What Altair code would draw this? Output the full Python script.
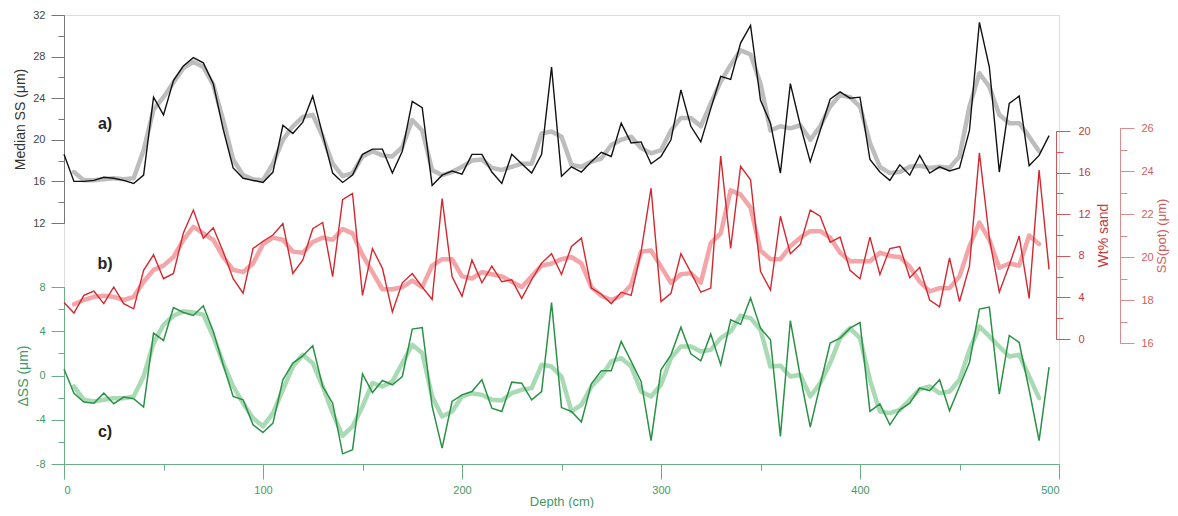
import altair as alt
import pandas as pd

# ---------------- data ----------------
depth = [0, 5, 10, 15, 20, 25, 30, 35, 40, 45, 50, 55, 60, 65, 70, 75, 80, 85, 90, 95,
         100, 105, 110, 115, 120, 125, 130, 135, 140, 145, 150, 155, 160, 165, 170, 175, 180, 185, 190, 195,
         200, 205, 210, 215, 220, 225, 230, 235, 240, 245, 250, 255, 260, 265, 270, 275, 280, 285, 290, 295,
         300, 305, 310, 315, 320, 325, 330, 335, 340, 345, 350, 355, 360, 365, 370, 375, 380, 385, 390, 395,
         400, 405, 410, 415, 420, 425, 430, 435, 440, 445, 450, 455, 460, 465, 470, 475, 480, 485, 490, 495]
depth_smooth = depth[1:-1]

median_ss = [18.6, 16.0, 16.0, 16.1, 16.4, 16.3, 16.1, 15.8, 16.6, 24.1,
             22.4, 25.7, 27.1, 27.9, 27.4, 25.4, 21.0, 17.3, 16.3, 16.1,
             15.9, 16.9, 21.4, 20.6, 21.7, 24.2, 20.5, 16.8, 15.9, 16.6,
             18.6, 19.1, 19.1, 16.8, 18.9, 23.7, 23.1, 15.6, 16.6, 17.0,
             16.7, 18.6, 18.6, 16.9, 15.8, 18.6, 17.7, 16.8, 18.6, 27.0,
             16.5, 17.4, 16.9, 17.9, 18.8, 18.4, 21.6, 19.7, 19.8, 17.7,
             18.4, 20.0, 24.8, 21.3, 19.8, 23.0, 26.1, 25.8, 29.3, 31.0,
             23.8, 21.6, 16.8, 25.4, 21.4, 17.9, 20.9, 23.9, 24.6, 24.0,
             24.1, 18.1, 16.9, 16.1, 17.6, 16.6, 18.5, 16.8, 17.4, 17.0,
             17.3, 20.9, 31.3, 27.0, 16.9, 23.5, 24.2, 17.5, 18.5, 20.4]

median_ss_smooth = [16.9, 16.1, 16.1, 16.2, 16.3, 16.2, 16.3, 19.0, 22.9, 24.1,
                    25.5, 26.9, 27.5, 27.0, 25.3, 21.9, 18.1, 16.6, 16.2, 16.1,
                    17.7, 20.0, 21.3, 22.2, 22.4, 20.3, 17.7, 16.5, 16.8, 18.4,
                    18.9, 18.5, 18.4, 19.3, 21.9, 20.9, 17.1, 16.6, 16.9, 17.4,
                    18.0, 18.1, 17.3, 17.1, 17.4, 17.7, 17.7, 20.6, 20.8, 20.3,
                    17.6, 17.4, 17.9, 18.2, 19.5, 20.0, 20.3, 19.2, 18.7, 19.0,
                    20.9, 22.1, 22.1, 21.3, 23.5, 25.6, 27.2, 28.6, 28.2, 25.4,
                    20.9, 21.3, 21.1, 21.4, 20.0, 21.3, 23.2, 24.3, 24.1, 23.2,
                    19.7, 17.4, 16.8, 16.9, 17.4, 17.5, 17.3, 17.4, 17.3, 18.4,
                    23.2, 26.4, 25.1, 22.4, 21.6, 21.6, 20.3, 18.9]

wt_sand = [3.5, 2.5, 4.2, 4.6, 3.4, 5.0, 3.4, 2.9, 6.6, 8.1,
           5.8, 6.3, 10.2, 12.4, 9.7, 10.7, 8.4, 5.8, 4.4, 8.7,
           9.4, 10.0, 11.1, 6.3, 7.6, 10.6, 11.2, 6.0, 13.4, 14.0,
           4.2, 8.7, 6.8, 2.6, 5.4, 6.3, 5.0, 3.8, 13.5, 6.0,
           4.1, 7.6, 5.4, 7.0, 5.5, 5.7, 3.9, 5.7, 7.3, 8.2,
           6.2, 8.9, 9.7, 4.9, 4.3, 3.4, 4.5, 4.2, 8.4, 14.5,
           3.6, 4.4, 8.2, 6.4, 4.5, 4.9, 17.6, 8.7, 16.6, 15.3,
           6.5, 4.7, 11.8, 8.2, 9.1, 12.4, 11.8, 9.3, 9.8, 6.6,
           5.8, 9.8, 6.2, 8.7, 8.9, 5.9, 6.9, 3.75, 3.1, 7.8,
           3.6, 7.0, 17.9, 9.7, 4.5, 7.1, 9.9, 3.9, 16.25, 6.7]

ss_pot = [17.8, 18.0, 18.15, 18.2, 18.15, 18.0, 18.15, 18.85, 19.4, 19.6,
          20.0, 20.8, 21.4, 21.1, 20.8, 20.0, 19.4, 19.3, 19.7, 20.6,
          20.9, 20.8, 20.25, 20.2, 20.7, 20.9, 20.8, 21.3, 21.1, 20.1,
          19.3, 18.5, 18.5, 18.6, 18.9, 18.6, 19.6, 19.9, 19.9, 19.1,
          19.0, 19.3, 19.2, 19.1, 18.85, 18.6, 19.1, 19.6, 19.7, 19.9,
          20.0, 19.7, 18.6, 18.2, 18.0, 18.2, 18.7, 20.25, 20.3, 19.55,
          18.8, 19.2, 19.25, 18.8, 20.65, 21.1, 23.1, 22.9, 22.3, 20.3,
          19.9, 19.9, 20.5, 20.9, 21.2, 21.2, 20.9, 20.2, 19.8, 19.8,
          19.8, 20.2, 20.05, 20.0, 19.55, 18.85, 18.4, 18.55, 18.55, 19.1,
          20.5, 21.6, 20.8, 19.5, 19.7, 19.6, 21.0, 20.6]

delta_ss = [0.58, -1.6, -2.4, -2.5, -1.6, -2.55, -1.95, -2.1, -2.86, 3.83,
            3.17, 6.15, 5.7, 5.43, 6.3, 4.0, 0.97, -1.9, -2.2, -4.46,
            -5.15, -4.3, -0.39, 1.12, 1.78, 2.69, -0.99, -2.5, -7.08, -6.7,
            0.15, -1.54, -0.45, -0.84, -0.09, 4.2, 4.34, -2.8, -6.57, -2.35,
            -1.75, -1.45, -0.39, -2.95, -3.25, -0.6, -0.69, -2.2, -1.45, 6.6,
            -2.9, -3.25, -4.2, -0.75, 0.42, 0.42, 3.07, 1.27, -0.54, -5.88,
            0.51, 1.87, 4.37, 1.96, 1.33, 3.74, 0.97, 5.04, 4.64, 7.0,
            4.28, 3.23, -5.5, 4.97, -0.09, -4.67, -0.84, 2.93, 3.38, 4.28,
            4.79, -3.25, -2.56, -4.46, -3.1, -2.5, -1.14, -1.36, -0.39, -3.19,
            -0.99, 1.18, 6.0, 6.18, -1.68, 3.62, 2.98, -1.29, -5.88, 0.76]

delta_ss_smooth = [-0.99, -2.2, -2.35, -2.2, -2.05, -2.05, -1.9, -0.09, 2.93, 4.58,
                   5.4, 5.8, 5.7, 5.5, 3.53, 1.12, -0.99, -2.5, -3.85, -4.6,
                   -3.4, -1.29, 0.81, 1.87, 1.12, -0.99, -3.4, -5.45, -4.6, -2.8,
                   -0.69, -0.99, -0.54, 1.12, 2.78, 2.03, -1.9, -3.7, -3.25, -1.9,
                   -1.6, -1.75, -2.2, -2.25, -1.6, -1.29, -1.14, 0.97, 0.81, -0.09,
                   -3.25, -2.65, -0.99, -0.09, 1.27, 1.57, 0.81, -1.45, -1.9, -0.84,
                   1.57, 2.62, 2.62, 2.17, 2.32, 3.38, 3.98, 5.4, 5.19, 4.13,
                   0.81, 0.88, -0.09, 0.06, -1.9, -0.69, 1.12, 3.38, 4.28, 3.38,
                   -0.39, -3.25, -3.4, -3.1, -2.2, -1.23, -0.99, -1.6, -1.45, -0.39,
                   2.32, 4.43, 3.53, 2.62, 1.72, 1.87, -0.09, -2.05]

# tick values
x_major = [0, 100, 200, 300, 400, 500]
x_minor = [0, 50, 100, 150, 200, 250, 300, 350, 400, 450, 500]
ss_major = [12, 16, 20, 24, 28, 32]
ss_minor = [12, 14, 16, 18, 20, 22, 24, 26, 28, 30, 32]
sand_major = [0, 4, 8, 12, 16, 20]
sand_minor = [0, 2, 4, 6, 8, 10, 12, 14, 16, 18, 20]
pot_major = [16, 18, 20, 22, 24, 26]
pot_minor = [16, 17, 18, 19, 20, 21, 22, 23, 24, 25, 26]
dss_major = [-8, -4, 0, 4, 8]
dss_minor = [-8, -6, -4, -2, 0, 2, 4, 6, 8]

# panel labels (depth, value in that panel's units)
lab_a = {"d": [20.6], "v": [21.5], "t": ["a)"]}
lab_b = {"d": [20.6], "v": [7.2], "t": ["b)"]}
lab_c = {"d": [20.6], "v": [-5.1], "t": ["c)"]}

raw = pd.DataFrame({"d": depth, "ss": median_ss, "sand": wt_sand, "dss": delta_ss})
smooth = pd.DataFrame({"d": depth_smooth, "ss": median_ss_smooth, "pot": ss_pot,
                       "dss": delta_ss_smooth})

FONT = "Liberation Sans"
GREEN_AX = "#6aae86"
GREEN_TXT = "#3f9a66"
GREY_AX = "#777777"
RED_AX = "#cf5a5e"
RED_TXT = "#c23b3f"
PINK_AX = "#dc8b8e"
PINK_TXT = "#cf5f63"

xscale = alt.Scale(domain=[0, 500], nice=False, zero=False)
sA = alt.Scale(domain=[12, 32], range=[208, 0], nice=False, zero=False)
sB = alt.Scale(domain=[0, 20], range=[324, 116], nice=False, zero=False)
sC = alt.Scale(domain=[16, 26], range=[328, 113], nice=False, zero=False)
sD = alt.Scale(domain=[-8, 8], range=[449, 272], nice=False, zero=False)

LBL = "'' + datum.value"


def major_axis(orient, values, title, ax_col, txt_col, title_col, tick=13, pad=6,
               offset=0, title_pad=5, angle=None, title_size=14):
    kw = dict(orient=orient, values=values, tickSize=tick, labelPadding=pad,
              labelFontSize=11, labelColor=txt_col, labelExpr=LBL, domainColor=ax_col,
              tickColor=ax_col, domainWidth=1, tickWidth=1, grid=False, title=title,
              titleFontSize=title_size, titleFontWeight="normal", titleColor=title_col,
              titlePadding=title_pad, offset=offset, labelFont=FONT, titleFont=FONT)
    if angle is not None:
        kw["titleAngle"] = angle
        kw["titleBaseline"] = "top"
    return alt.Axis(**kw)


def minor_axis(orient, values, ax_col, tick=6, offset=0):
    return alt.Axis(orient=orient, values=values, tickSize=tick, labels=False,
                    domain=False, tickColor=ax_col, tickWidth=1, grid=False,
                    title=None, offset=offset)


x_major_axis = alt.Axis(orient="bottom", values=x_major, tickSize=15, labelPadding=5,
                        labelFontSize=11, labelColor=GREEN_TXT, domainColor=GREEN_AX,
                        tickColor=GREEN_AX, grid=False, title="Depth (cm)",
                        titleFontSize=13, titleFontWeight="normal", titleColor=GREEN_TXT,
                        titlePadding=0, labelFont=FONT, titleFont=FONT)
x_minor_axis = alt.Axis(orient="bottom", values=x_minor, tickSize=6, labels=False,
                        domain=False, tickColor=GREEN_AX, grid=False, title=None)

base_raw = alt.Chart(raw)
base_sm = alt.Chart(smooth)

grey = base_sm.mark_line(color="#bdbdbd", strokeWidth=4.5, strokeCap="round",
                         strokeJoin="round").encode(
    x=alt.X("d:Q", scale=xscale, axis=x_major_axis),
    y=alt.Y("ss:Q", scale=sA, axis=major_axis("left", ss_major, "Median SS (μm)",
                                              GREY_AX, "#444444", "#333333")))
black = base_raw.mark_line(color="#111111", strokeWidth=1.4).encode(
    x=alt.X("d:Q", scale=xscale, axis=x_minor_axis),
    y=alt.Y("ss:Q", scale=sA, axis=minor_axis("left", ss_minor, GREY_AX)))

pink = base_sm.mark_line(color="#f3a5a8", strokeWidth=4.5, strokeCap="round",
                         strokeJoin="round").encode(
    x=alt.X("d:Q", scale=xscale, axis=None),
    y=alt.Y("pot:Q", scale=sC, axis=major_axis("right", pot_major, "SS(pot) (μm)",
                                               PINK_AX, PINK_TXT, PINK_TXT, tick=14,
                                               pad=7, offset=61, title_pad=2, angle=270,
                                               title_size=13)))
pink_minor = base_sm.mark_line(strokeOpacity=0).encode(
    x=alt.X("d:Q", scale=xscale, axis=None),
    y=alt.Y("pot:Q", scale=sC, axis=minor_axis("right", pot_minor, PINK_AX, tick=7,
                                               offset=61)))

red = base_raw.mark_line(color="#d3282f", strokeWidth=1.4).encode(
    x=alt.X("d:Q", scale=xscale, axis=None),
    y=alt.Y("sand:Q", scale=sB, axis=major_axis("right", sand_major, "Wt% sand",
                                                RED_AX, RED_TXT, RED_TXT, tick=14,
                                                pad=8, offset=-3, title_pad=6, angle=270)))
red_minor = base_raw.mark_line(strokeOpacity=0).encode(
    x=alt.X("d:Q", scale=xscale, axis=None),
    y=alt.Y("sand:Q", scale=sB, axis=minor_axis("right", sand_minor, RED_AX, tick=7,
                                                offset=-3)))

lgreen = base_sm.mark_line(color="#a8dab3", strokeWidth=4.5, strokeCap="round",
                           strokeJoin="round").encode(
    x=alt.X("d:Q", scale=xscale, axis=None),
    y=alt.Y("dss:Q", scale=sD, axis=major_axis("left", dss_major, "ΔSS (μm)",
                                               GREEN_AX, GREEN_TXT, GREEN_TXT)))
green = base_raw.mark_line(color="#2a9146", strokeWidth=1.5).encode(
    x=alt.X("d:Q", scale=xscale, axis=None),
    y=alt.Y("dss:Q", scale=sD, axis=minor_axis("left", dss_minor, GREEN_AX)))


def label_layer(data, scale):
    return alt.Chart(pd.DataFrame(data)).mark_text(
        fontSize=16, fontWeight="bold", font=FONT, color="#222222", align="center",
        baseline="middle").encode(
        x=alt.X("d:Q", scale=xscale, axis=None),
        y=alt.Y("v:Q", scale=scale, axis=None),
        text="t:N")


chart = alt.layer(
    grey, black, pink, pink_minor, red, red_minor, lgreen, green,
    label_layer(lab_a, sA), label_layer(lab_b, sB), label_layer(lab_c, sD)
).resolve_scale(x="independent", y="independent").resolve_axis(
    x="independent", y="independent"
).properties(
    width=995, height=449,
    padding={"left": 56, "top": 7, "right": 111, "bottom": 44},
    autosize=alt.AutoSizeParams(type="none"),
).configure_view(strokeWidth=0).configure(background="white")

chart.save("out.html", embed_options={"renderer": "svg", "actions": False})
